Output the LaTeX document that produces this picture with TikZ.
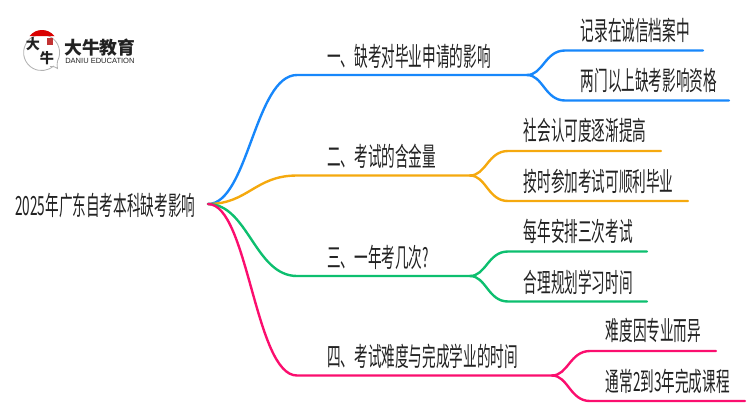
\documentclass[tikz,border=0pt]{standalone}
\usepackage{fontspec}
\newfontfamily\cjk[FakeStretch=0.515]{Noto Sans CJK SC}
\newfontfamily\logofont{Noto Sans CJK SC}
\newfontfamily\latinfont{Liberation Sans}
\definecolor{lineblue}{HTML}{1787FB}
\definecolor{lineorange}{HTML}{F5A90E}
\definecolor{linegreen}{HTML}{0DBF6F}
\definecolor{linepink}{HTML}{FB0E6E}
\definecolor{textdark}{HTML}{222222}
\tikzset{
  limb/.style={line width=1.7pt, line cap=round},
  label/.style={anchor=west, inner sep=0pt, text=textdark, font=\cjk\fontsize{18.8}{20}\selectfont},
  brush/.style={inner sep=0pt, text=textdark, font=\logofont\bfseries\fontsize{10}{10}\selectfont},
}

\begin{document}
\begin{tikzpicture}[x=0.025cm, y=-0.025cm]
\useasboundingbox (0, 0) rectangle (750, 410);

% 1. logo
\draw[black!30, semithick] (50, 66.5) .. controls (54, 66.5) and (56, 67) .. (57.5, 68.5) .. controls (57, 66) and (57, 64) .. (57.5, 61)
    arc[start angle=28, end angle=-312, radius=18] ;
\fill[red!85!black] (29.5, 36) .. controls (33, 32) and (37, 30) .. (42, 30) .. controls (47, 30) and (51, 32) .. (54.5, 36) -- cycle;
\fill[red!70!black!80] (47, 37.5) rectangle (53, 45);
\node[brush] (brusha) at (33, 44) {大};
\node[brush] (brushb) at (47, 58) {牛};
\node[anchor=west, inner sep=0pt, text=textdark, font=\logofont\bfseries\fontsize{12.7}{14}\selectfont] (logoname) at (64, 48) {大牛教育};
\node[anchor=west, inner sep=0pt, text=textdark, font=\latinfont\fontsize{5.35}{6}\selectfont] (logoen) at (65, 60.5) {DANIU EDUCATION};

% 2. root
\node[label] (root) at (15, 205) {2025年广东自考本科缺考影响};
\coordinate (start) at (208, 204);

% 3. branches
\foreach \name/\col/\y/\fx/\enda/\endb/\lab/\laba/\labb in
    {one/lineblue/75/527/703/729/一、缺考对毕业申请的影响/记录在诚信档案中/两门以上缺考影响资格,
     two/lineorange/175.5/470/661/688/二、考试的含金量/社会认可度逐渐提高/按时参加考试可顺利毕业,
     three/linegreen/276/470/647/647/三、一年考几次?/每年安排三次考试/合理规划学习时间,
     four/linepink/375.5/552/716/745/四、考试难度与完成学业的时间/难度因专业而异/通常2到3年完成课程}
    {\coordinate (\name bend) at (297, \y);
     \coordinate (\name fork) at (\fx, \y);
     \coordinate (\name a) at (\fx+38, \y-24.5);
     \coordinate (\name b) at (\fx+38, \y+25.5);
     \coordinate (\name aend) at (\enda, \y-24.5);
     \coordinate (\name bend2) at (\endb, \y+25.5);
     \draw[limb, \col] (start) .. controls (248, 204) and (255, \y) .. (\name bend) -- (\name fork);
     \draw[limb, \col] (\name fork) .. controls (\fx+16, \y) and (\fx+18, \y-24.5) .. (\name a) -- (\name aend);
     \draw[limb, \col] (\name fork) .. controls (\fx+16, \y) and (\fx+18, \y+25.5) .. (\name b) -- (\name bend2);
     \node[label] (\name text) at (327, \y-19) {\lab};
     \node[label] (\name texta) at (\fx+53.5, \y-45) {\laba};
     \node[label] (\name textb) at (\fx+53.5, \y+6) {\labb};
    }
\end{tikzpicture}
\end{document}
